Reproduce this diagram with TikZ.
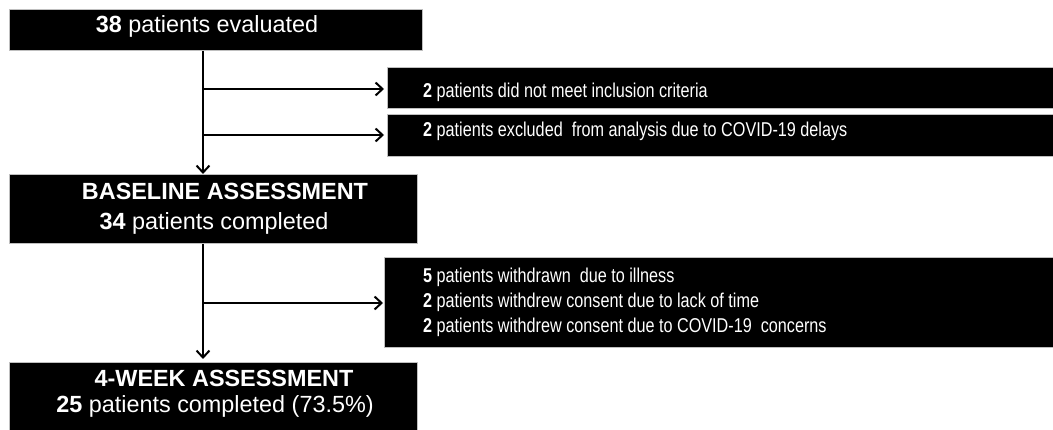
\documentclass[tikz,border=0pt]{standalone}
\usepackage{fontspec}
\setmainfont{Liberation Sans}
\newfontfamily\narrowfont[FakeStretch=0.81]{Liberation Sans}
\usetikzlibrary{arrows.meta}
\begin{document}
\begin{tikzpicture}[x=1pt,y=-1pt,
  box/.style={fill=black, draw=black!25, line width=0.8pt, inner sep=0pt, anchor=north west},
  ltext/.style={text=white, font=\fontsize{23.4}{27}\selectfont, inner sep=0pt, anchor=base},
  rtext/.style={text=white, font=\narrowfont\fontsize{20}{25}\selectfont, inner sep=0pt, anchor=base west},
  conn/.style={line width=2pt, -{Straight Barb[length=7pt,width=13pt]}}]
\useasboundingbox (0,0) rectangle (1053,430);
% boxes
\node[box, minimum width=413pt, minimum height=41pt] (b1) at (9,9) {};
\node[box, minimum width=666pt, minimum height=41pt] (b2) at (387,67) {};
\node[box, minimum width=666pt, minimum height=42pt] (b3) at (387,114) {};
\node[box, minimum width=408pt, minimum height=69pt] (b4) at (9,174) {};
\node[box, minimum width=669pt, minimum height=90pt] (b5) at (384,257) {};
\node[box, minimum width=408pt, minimum height=70pt] (b6) at (9,362) {};
% texts
\node[ltext] (t1) at (207,33) {\textbf{38} patients evaluated};
\node[ltext] (t4a) at (225,200) {\textbf{BASELINE ASSESSMENT}};
\node[ltext] (t4b) at (214,230) {\textbf{34} patients completed};
\node[ltext] (t6a) at (224,387) {\textbf{4-WEEK ASSESSMENT}};
\node[ltext] (t6b) at (215,413) {\textbf{25} patients completed (73.5\%)};
\node[rtext] (t2) at (423,98) {\textbf{2} patients did not meet inclusion criteria};
\node[rtext] (t3) at (423,137) {\textbf{2} patients excluded\ \ from analysis due to COVID-19 delays};
\node[rtext] (t5a) at (423,283) {\textbf{5} patients withdrawn\ \ due to illness};
\node[rtext] (t5b) at (423,308) {\textbf{2} patients withdrew consent due to lack of time};
\node[rtext] (t5c) at (423,333) {\textbf{2} patients withdrew consent due to COVID-19\ \ concerns};
% junctions
\coordinate (j1) at (203,89);
\coordinate (j2) at (203,135);
\coordinate (j3) at (203,303);
% connectors
\draw[conn] (b1.south -| j1) -- (b4.north -| j1);
\draw[conn, shorten >=3pt] (j1) -- (b2.west |- j1);
\draw[conn, shorten >=3pt] (j2) -- (b3.west |- j2);
\draw[conn, shorten >=3pt] (b4.south -| j3) -- (b6.north -| j3);
\draw[conn, shorten >=1pt] (j3) -- (b5.west |- j3);
\end{tikzpicture}
\end{document}
